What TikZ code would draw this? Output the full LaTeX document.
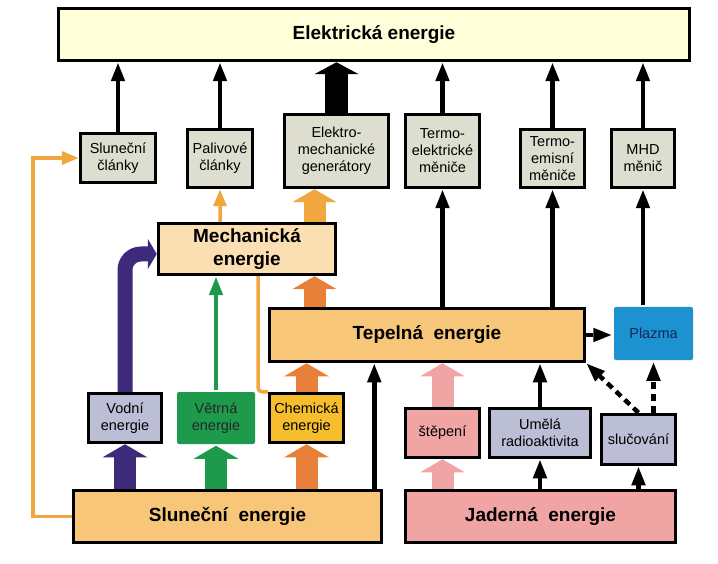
\documentclass[tikz,border=0pt]{standalone}
\usepackage{fontspec}
\setmainfont{Liberation Sans}
\usetikzlibrary{arrows.meta}

\definecolor{elekfill}{RGB}{255,255,218}
\definecolor{convfill}{RGB}{222,222,208}
\definecolor{mechfill}{RGB}{251,222,178}
\definecolor{heatfill}{RGB}{247,198,120}
\definecolor{plasmafill}{RGB}{28,146,208}
\definecolor{plasmatext}{RGB}{20,40,90}
\definecolor{greyblue}{RGB}{188,190,214}
\definecolor{windfill}{RGB}{30,154,76}
\definecolor{chemfill}{RGB}{246,190,44}
\definecolor{nucfill}{RGB}{240,164,164}
\definecolor{waterarrow}{RGB}{62,42,122}
\definecolor{lightorange}{RGB}{241,166,62}
\definecolor{darkorange}{RGB}{233,128,58}

\tikzset{
  box/.style={draw=black, line width=3.5pt, fill=convfill, align=center, inner sep=1pt,
    font=\fontsize{14.5}{17}\selectfont},
  bigbox/.style={box, font=\fontsize{19}{23}\selectfont\bfseries},
  flatbox/.style={box, draw=none, rounded corners=2pt},
  feed/.style={line width=4.5pt, -{Triangle[width=13pt,length=19pt]}},
  dashfeed/.style={feed, dash pattern=on 7pt off 5pt},
  block/.style={line width=22pt, -{Triangle[width=44pt,length=13pt]}},
  orline/.style={lightorange, line width=3.5pt, -{Triangle[width=13pt,length=17pt]}},
}

\begin{document}
\begin{tikzpicture}[x=1pt,y=-1pt]
\useasboundingbox (0,0) rectangle (718,564);

% top row
\node[bigbox, fill=elekfill, minimum width=631, minimum height=52] (elek) at (374,34.5) {Elektrická energie};
\node[box, minimum width=75, minimum height=49] (sc) at (118,158) {Sluneční\\články};
\node[box, minimum width=65, minimum height=58] (pc) at (220,158.5) {Palivové\\články};
\node[box, minimum width=104, minimum height=73] (emg) at (336.5,151) {Elektro-\\mechanické\\generátory};
\node[box, minimum width=74, minimum height=73] (tem) at (442.5,151) {Termo-\\elektrické\\měniče};
\node[box, minimum width=64, minimum height=58] (tes) at (552.5,158.5) {Termo-\\emisní\\měniče};
\node[box, minimum width=63, minimum height=58] (mhd) at (643,158.5) {MHD\\měnič};

% middle
\node[bigbox, fill=heatfill, minimum width=315, minimum height=53] (tep) at (427,335) {Tepelná~~energie};
\node[flatbox, fill=plasmafill, text=plasmatext, minimum width=79, minimum height=53] (plazma) at (653.5,333.5) {Plazma};

% sources
\node[box, fill=greyblue, minimum width=73, minimum height=49] (vod) at (125,418) {Vodní\\energie};
\node[flatbox, fill=windfill, text=black!85, minimum width=78, minimum height=52] (vet) at (216,418) {Větrná\\energie};
\node[box, fill=chemfill, minimum width=74, minimum height=49] (chem) at (306.5,418) {Chemická\\energie};
\node[box, fill=nucfill, minimum width=74, minimum height=49] (step) at (442.5,433) {štěpení};
\node[box, fill=greyblue, minimum width=101, minimum height=49] (uml) at (540,433) {Umělá\\radioaktivita};
\node[box, fill=greyblue, minimum width=74, minimum height=50] (sluc) at (638.5,439.5) {slučování};
\node[bigbox, fill=heatfill, minimum width=308, minimum height=52] (slun) at (227.5,516.5) {Sluneční~~energie};
\node[bigbox, fill=nucfill, minimum width=270, minimum height=52] (jad) at (540.5,516.5) {Jaderná~~energie};

% chemical energy to fuel cells, behind the mechanical box
\draw[orline, rounded corners=4pt] (chem.north west) -| (258,250) -| (pc.south);
\node[bigbox, fill=mechfill, minimum width=177, minimum height=51] (mech) at (247,249) {Mechanická\\energie};

% to electric energy
\draw[feed] (sc.north) -- (sc.north |- elek.south);
\draw[feed] (pc.north) -- (pc.north |- elek.south);
\draw[feed] (tem.north) -- (tem.north |- elek.south);
\draw[feed] (tes.north) -- (tes.north |- elek.south);
\draw[feed] (mhd.north) -- (mhd.north |- elek.south);
\draw[line width=23pt, -{Triangle[width=44pt,length=12pt]}] (emg.north) -- (emg.north |- elek.south);

% heat and mechanical energy
\draw[block, lightorange] ([xshift=-22pt]emg.south |- mech.north) -- ([xshift=-22pt]emg.south);
\draw[block, darkorange] ([xshift=-22pt]emg.south |- tep.north) -- ([xshift=-22pt]emg.south |- mech.south);
\draw[feed] (tem.south |- tep.north) -- (tem.south);
\draw[feed] (tes.south |- tep.north) -- (tes.south);
\draw[feed] (mhd.south |- plazma.north) -- (mhd.south);
\draw[dashfeed] (tep.east) -- (tep.east -| plazma.west);
\draw[dashfeed] (sluc.north) -- (tep.south east);
\draw[dashfeed] (sluc.north -| plazma.south) -- (plazma.south);

% from the sources
\draw[waterarrow, line width=15pt, rounded corners=16pt, -{Triangle[width=30pt,length=9pt]}]
  (vod.north) |- ([yshift=-5pt]mech.west);
\draw[feed, windfill] (vet.north) -- (vet.north |- mech.south);
\draw[block, darkorange] (chem.north) -- (chem.north |- tep.south);
\draw[block, waterarrow] (vod.south |- slun.north) -- (vod.south);
\draw[block, windfill] (vet.south |- slun.north) -- (vet.south);
\draw[block, darkorange] (chem.south |- slun.north) -- (chem.south);
\draw[feed] ([xshift=-9pt]slun.north east) -- ([xshift=-9pt]slun.north east |- tep.south);
\draw[orline] (slun.west) -- ++(-39,0) |- (sc.west);

\draw[block, nucfill] (step.south |- jad.north) -- (step.south);
\draw[block, nucfill] (step.north) -- (step.north |- tep.south);
\draw[feed] (uml.south |- jad.north) -- (uml.south);
\draw[feed] (uml.north) -- (uml.north |- tep.south);
\draw[feed] (sluc.south |- jad.north) -- (sluc.south);
\end{tikzpicture}
\end{document}
